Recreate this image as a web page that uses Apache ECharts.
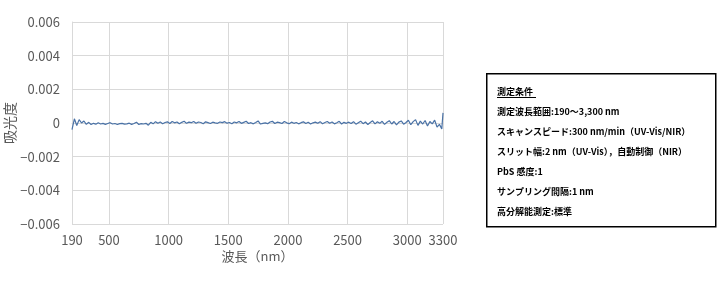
<!DOCTYPE html>
<html><head><meta charset="utf-8">
<script src="https://cdn.jsdelivr.net/npm/echarts@6/dist/echarts.min.js"></script>
<style>html,body{margin:0;padding:0;background:#fff}#c{width:720px;height:282px}</style>
</head><body><div id="c"></div>
<script>
// Sampling grid (nm): 190, 210, ... 3290, then 3300
const wavelengthStart = 190;
const wavelengthStep = 20;
const wavelengthEnd = 3300;
// Absorbance, in units of 1e-4
const absorbanceScale = 1e-4;
const absorbance = [
  -4, 2.5, -1.5, 2, 0, 1.2, -0.8, 0.4, -0.9, -0.2, -0.7, 0.1, -0.6, -0.2, -0.8, -0.3,
  0.2, -0.6, -0.3, -0.9, -0.4, -0.2, -0.7, -0.5, -0.1, -0.8, -0.3, 0.5, -0.9, -0.4, -0.6, -0.2, -1.3, 0.4, -0.5, 0.8, -0.2, 0.6, -0.4, 0.3, 0.7,
  -0.3, 0.9, 0.1, 0.6, -0.5, 0.4, 1, -0.2, 0.5, 0.2, 0.9, -0.1, 0.6, 0.3, -0.4, 0.7, 0.2, -0.3, 0.5, 0.1, -0.2, 0.6, 0.2, 0.8, -0.1,
  0.3, -0.4, 0.6, 0.1, 0.9, -0.2, 0.4, 1, -0.3, 0.2, -0.5, 0.3, 1.2, -0.6, -0.2, 0.1, -0.4, 0.6, 1, -0.3, 0.5, 0.2, -0.3, 0.9, 0.1,
  -0.4, 0.5, -0.2, 0.3, -0.5, 0.2, 0.7, -0.3, 0.4, -0.6, 0.1, 0.5, -0.2, 0.8, -0.4, 0.3, 0.9, -0.1, 0.6, -0.5, 0.2, 1, -0.6, 0.4, -0.2,
  0.5, -0.3, 0.8, -0.7, 0.2, 1.1, -0.4, 0.6, -0.9, 0.3, 1.3, -0.5, 0.7, -0.2, 1, -0.8, 0.4, 1.4, -0.6, 0.9, -1.1, 0.5, 1.2, -0.7, 0.3,
  1.6, -1, 0.8, 2, -1.4, 1.1, -0.6, 1.5, -1.8, 0.9, -0.5, 1.7, -2.4, -0.8, -3.5,
  6
];
const xTicks = [190, 500, 1000, 1500, 2000, 2500, 3000, 3300];
const yTicks = [-0.006, -0.004, -0.002, 0, 0.002, 0.004, 0.006];
const xName = '波長（nm）';
const yName = '吸光度';
const conditionTitle = '測定条件';
const conditionLines = [
  '測定波長範囲:190〜3,300 nm',
  'スキャンスピード:300 nm/min（UV-Vis/NIR）',
  'スリット幅:2 nm（UV-Vis），自動制御（NIR）',
  'PbS 感度:1',
  'サンプリング間隔:1 nm',
  '高分解能測定:標準'
];

const seriesData = absorbance.map((v, i) => {
  const wl = i === absorbance.length - 1 ? wavelengthEnd : wavelengthStart + i * wavelengthStep;
  return [wl, v * absorbanceScale];
});

const FONT = '"Noto Sans CJK JP", "Noto Sans", sans-serif';
const chart = echarts.init(document.getElementById('c'), null, {renderer: 'canvas'});

const graphics = [
  {type: 'rect', left: 486, top: 73, shape: {width: 229, height: 153}, style: {fill: '#fff', stroke: '#000', lineWidth: 1.5}},
  {type: 'text', left: 497, top: 87, style: {text: conditionTitle, font: 'bold 9px ' + FONT, fill: '#000'}},
  {type: 'line', shape: {x1: 497, y1: 97.5, x2: 536, y2: 97.5}, style: {stroke: '#000', lineWidth: 1}}
];
conditionLines.forEach((t, i) => {
  graphics.push({type: 'text', left: 497, top: 107 + i * 20, style: {text: t, font: 'bold 9px ' + FONT, fill: '#000'}});
});

chart.setOption({
  animation: false,
  textStyle: {fontFamily: FONT},
  grid: {left: 72, right: 277, top: 22, bottom: 58, containLabel: false, outerBoundsMode: 'none'},
  xAxis: {
    type: 'value', min: 190, max: 3300,
    name: xName, nameLocation: 'middle', nameGap: 26, nameMoveOverlap: false,
    nameTextStyle: {fontSize: 13, color: '#595959', fontFamily: FONT},
    axisLine: {show: true, lineStyle: {color: '#d9d9d9'}},
    axisTick: {show: false, customValues: xTicks},
    axisLabel: {customValues: xTicks, fontSize: 13, color: '#595959', margin: 10, fontFamily: FONT, formatter: v => String(v)},
    splitLine: {show: true, lineStyle: {color: '#d9d9d9', width: 1}}
  },
  yAxis: {
    type: 'value', min: -0.006, max: 0.006, interval: 0.002,
    name: yName, nameLocation: 'middle', nameGap: 55, nameRotate: 90, nameMoveOverlap: false,
    nameTextStyle: {fontSize: 14, color: '#595959', fontFamily: FONT},
    axisLine: {show: true, lineStyle: {color: '#d9d9d9'}},
    axisTick: {show: false},
    axisLabel: {
      fontSize: 13, color: '#595959', margin: 12, fontFamily: FONT,
      formatter: v => Math.abs(v) < 1e-9 ? '0' : (v < 0 ? '−' : '') + Math.abs(v).toFixed(3)
    },
    splitLine: {show: true, lineStyle: {color: '#d9d9d9', width: 1}}
  },
  series: [{
    type: 'line', data: seriesData, showSymbol: false, symbol: 'none',
    lineStyle: {color: '#4a72a6', width: 1.2}, z: 3
  }],
  graphic: graphics
});
</script></body></html>
